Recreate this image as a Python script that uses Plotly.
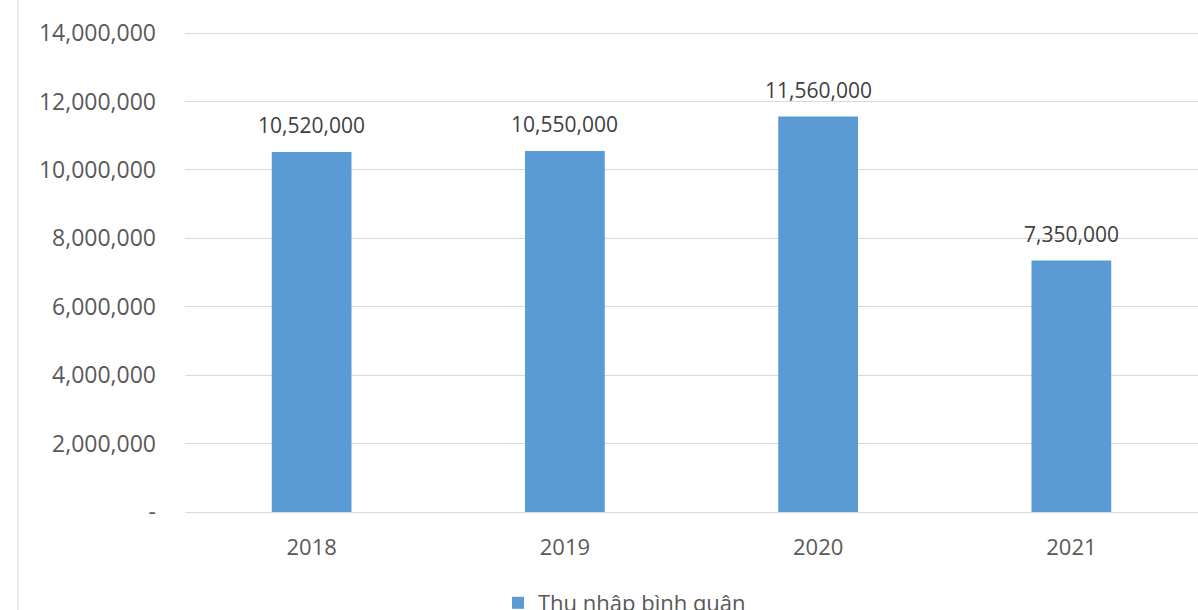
import plotly.graph_objects as go

years = ["2018", "2019", "2020", "2021"]
values = [10520000, 10550000, 11560000, 7350000]
series_name = "Thu nhập bình quân"
tick_vals = [0, 2000000, 4000000, 6000000, 8000000, 10000000, 12000000, 14000000]
tick_text = ["-", "2,000,000", "4,000,000", "6,000,000", "8,000,000", "10,000,000", "12,000,000", "14,000,000"]

FONT = "Open Sans, Liberation Sans, sans-serif"
GREY = "#595959"

L, T, W, H = 185, 32, 1198, 610
B = H - 512
plot_w = W - L
plot_h = H - T - B

fig = go.Figure()
fig.add_trace(go.Bar(
    x=years, y=values, name=series_name,
    marker=dict(color="#5B9BD5", line=dict(width=0)),
    width=0.315, showlegend=True,
))

for i, v in enumerate(values):
    fig.add_annotation(x=i, y=v, xref="x", yref="y", text=f"{v:,}", showarrow=False,
                       yshift=27, font=dict(family=FONT, size=21, color="#404040"))

fig.add_shape(type="line", xref="paper", yref="paper",
              x0=(18 - L) / plot_w, x1=(18 - L) / plot_w, y0=-1, y1=2,
              line=dict(color="#D9D9D9", width=1))

fig.update_layout(
    width=W, height=H,
    margin=dict(l=L, r=0, t=T, b=B, autoexpand=False),
    plot_bgcolor="white", paper_bgcolor="white",
    font=dict(family=FONT, size=22, color=GREY),
    legend=dict(orientation="h", xref="container", yref="container",
                x=498 / W, xanchor="left",
                y=(H - 603) / H, yanchor="middle", font=dict(size=22, color=GREY),
                itemwidth=30),
)
fig.update_yaxes(range=[0, 14030000], autorange=False, tickvals=tick_vals, ticktext=tick_text,
                 showgrid=True, gridcolor="#D9D9D9", gridwidth=1, zeroline=False,
                 showline=False, ticks="", ticklabelstandoff=28,
                 tickfont=dict(size=23, color=GREY))
fig.update_xaxes(type="category", range=[-0.5, len(years) - 0.5], autorange=False,
                 showline=True, linecolor="#D9D9D9", linewidth=1, ticks="",
                 ticklabelstandoff=16, tickfont=dict(size=22, color=GREY))

fig.write_html("out.html", config={"displayModeBar": False},
               post_script="document.body.style.margin='0';document.body.style.overflow='hidden';")
